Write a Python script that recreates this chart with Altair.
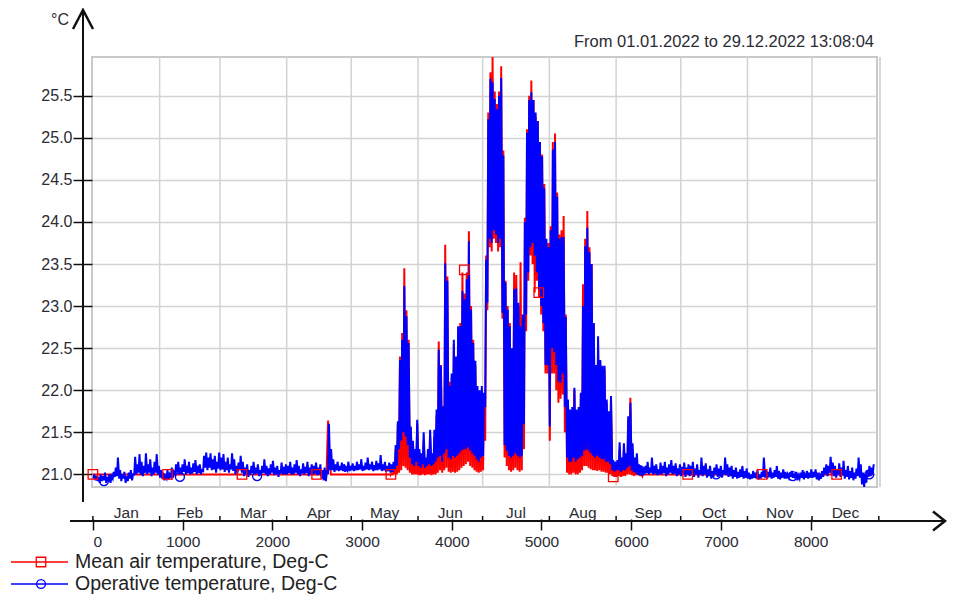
import altair as alt
import pandas as pd

# ---------------- data ----------------
# Operative temperature (blue): daily maximum and minimum, day 0 = 1 Jan
blue_max = [
    21.00, 20.98, 20.97, 21.00, 20.98, 21.02, 20.97, 21.00, 20.98, 21.03,
    21.08, 21.20, 21.05, 21.00, 21.03, 20.98, 21.02, 21.05, 21.00, 21.21,
    21.12, 21.24, 21.15, 21.10, 21.25, 21.12, 21.18, 21.08, 21.15, 21.24,
    21.10, 21.05, 21.02, 20.98, 21.05, 21.00, 21.08, 21.03, 21.12, 21.15,
    21.08, 21.12, 21.18, 21.10, 21.15, 21.08, 21.13, 21.17, 21.10, 21.12,
    21.05, 21.22, 21.26, 21.20, 21.25, 21.18, 21.22, 21.15, 21.26, 21.20,
    21.24, 21.15, 21.20, 21.12, 21.25, 21.18, 21.10, 21.14, 21.22, 21.15,
    21.08, 21.12, 21.05, 21.10, 21.15, 21.08, 21.12, 21.05, 21.10, 21.18,
    21.10, 21.07, 21.12, 21.16, 21.08, 21.10, 21.05, 21.14, 21.09, 21.12,
    21.10, 21.15, 21.08, 21.12, 21.17, 21.10, 21.06, 21.13, 21.09, 21.15,
    21.08, 21.12, 21.10, 21.14, 21.08, 21.12, 21.05, 21.08, 21.03, 21.60,
    21.30, 21.18, 21.12, 21.15, 21.10, 21.14, 21.12, 21.08, 21.15, 21.10,
    21.13, 21.10, 21.15, 21.12, 21.18, 21.10, 21.14, 21.20, 21.12, 21.15,
    21.11, 21.16, 21.13, 21.23, 21.12, 21.15, 21.10, 21.14, 21.12, 21.15,
    21.35, 21.63, 22.36, 22.60, 23.24, 22.88, 22.56, 21.57, 21.40, 21.30,
    21.65, 21.30, 21.25, 21.50, 21.20, 21.30, 21.53, 21.25, 21.53, 21.77,
    22.48, 22.29, 21.81, 23.51, 23.30, 22.05, 22.20, 22.60, 22.40, 22.76,
    22.76, 23.18, 23.08, 23.32, 23.77, 22.96, 22.56, 22.35, 22.05, 22.00,
    22.05, 21.97, 23.55, 25.22, 25.70, 25.66, 25.46, 25.34, 25.50, 25.71,
    24.79, 23.28, 22.96, 22.76, 22.50, 23.20, 23.21, 23.04, 22.76, 22.90,
    24.00, 25.06, 25.45, 25.54, 25.45, 25.30, 25.20, 24.95, 24.78, 24.40,
    23.80, 23.70, 23.90, 24.86, 24.95, 24.30, 23.80, 23.82, 23.82, 22.87,
    21.89, 21.77, 21.80, 22.03, 21.77, 21.80, 21.97, 23.00, 23.71, 23.93,
    23.64, 23.50, 22.80, 22.30, 22.64, 22.36, 22.29, 22.29, 21.89, 21.75,
    21.93, 21.17, 21.15, 21.17, 21.38, 21.20, 21.37, 21.25, 21.69, 21.85,
    21.37, 21.20, 21.25, 21.12, 21.10, 21.08, 21.10, 21.15, 21.08, 21.20,
    21.10, 21.12, 21.06, 21.14, 21.10, 21.15, 21.08, 21.12, 21.17, 21.10,
    21.13, 21.07, 21.12, 21.09, 21.14, 21.08, 21.12, 21.10, 21.15, 21.07,
    21.12, 21.05, 21.20, 21.10, 21.13, 21.06, 21.10, 21.04, 21.08, 21.12,
    21.07, 21.10, 21.05, 21.20, 21.12, 21.08, 21.10, 21.05, 21.08, 21.03,
    21.06, 21.10, 21.04, 21.07, 21.02, 21.00, 21.04, 21.02, 21.05, 21.00,
    21.03, 21.20, 21.06, 21.03, 21.08, 21.02, 21.05, 21.10, 21.04, 21.02,
    21.06, 21.03, 21.00, 21.02, 21.04, 21.01, 21.03, 20.99, 21.02, 21.05,
    21.00, 21.04, 21.02, 21.06, 21.03, 21.06, 21.02, 20.99, 21.04, 21.08,
    21.12, 21.10, 21.21, 21.14, 21.10, 21.06, 21.13, 21.08, 21.16, 21.05,
    21.10, 21.04, 21.08, 21.02, 21.07, 21.20, 21.12, 21.02, 21.00, 21.05,
    21.10, 21.08, 21.12,
]
blue_min = [
    20.95, 20.93, 20.92, 20.90, 20.92, 20.93, 20.90, 20.92, 20.90, 20.95,
    20.97, 20.98, 20.95, 20.92, 20.95, 20.90, 20.92, 20.95, 20.93, 21.00,
    21.00, 21.02, 21.00, 20.98, 21.02, 21.00, 21.02, 20.98, 21.00, 21.02,
    21.00, 20.96, 20.95, 20.93, 20.95, 20.94, 20.97, 20.96, 21.00, 21.02,
    21.00, 21.00, 21.03, 21.00, 21.02, 21.00, 21.01, 21.03, 21.00, 21.02,
    21.00, 21.04, 21.08, 21.05, 21.08, 21.05, 21.06, 21.02, 21.07, 21.05,
    21.06, 21.03, 21.05, 21.02, 21.06, 21.04, 21.00, 21.02, 21.05, 21.02,
    20.98, 21.00, 20.97, 21.00, 21.02, 21.00, 21.01, 20.98, 21.00, 21.02,
    21.00, 20.98, 21.00, 21.02, 20.99, 21.00, 20.97, 21.01, 21.00, 21.00,
    21.00, 21.02, 21.00, 21.00, 21.02, 21.00, 20.98, 21.01, 21.00, 21.02,
    20.98, 21.00, 21.00, 21.01, 20.99, 21.00, 20.95, 20.93, 20.92, 21.02,
    21.05, 21.05, 21.03, 21.05, 21.04, 21.05, 21.04, 21.03, 21.05, 21.04,
    21.05, 21.04, 21.05, 21.05, 21.06, 21.04, 21.05, 21.06, 21.05, 21.06,
    21.04, 21.05, 21.05, 21.06, 21.04, 21.05, 21.03, 21.04, 21.02, 21.03,
    21.05, 21.10, 21.30, 21.40, 21.50, 21.45, 21.35, 21.20, 21.12, 21.10,
    21.15, 21.10, 21.08, 21.12, 21.08, 21.10, 21.12, 21.10, 21.12, 21.15,
    21.20, 21.22, 21.15, 21.25, 21.30, 21.20, 21.18, 21.22, 21.20, 21.22,
    21.25, 21.28, 21.30, 21.30, 21.32, 21.28, 21.25, 21.22, 21.18, 21.15,
    21.20, 21.22, 21.80, 23.04, 23.80, 23.75, 23.90, 23.85, 23.75, 23.80,
    22.92, 21.35, 21.28, 21.22, 21.20, 21.22, 21.25, 21.22, 21.20, 21.22,
    21.60, 22.90, 23.40, 23.70, 23.75, 23.60, 23.40, 23.20, 23.00, 22.80,
    22.30, 22.30, 21.57, 22.50, 22.45, 22.30, 22.10, 22.09, 22.20, 21.80,
    21.20, 21.15, 21.15, 21.20, 21.15, 21.18, 21.20, 21.22, 21.28, 21.30,
    21.28, 21.25, 21.22, 21.20, 21.22, 21.20, 21.18, 21.18, 21.15, 21.15,
    21.12, 21.05, 21.03, 21.05, 21.05, 21.03, 21.05, 21.05, 21.08, 21.10,
    21.05, 21.03, 21.03, 21.00, 21.00, 20.98, 21.00, 21.02, 21.00, 21.02,
    21.00, 21.01, 20.99, 21.00, 21.00, 21.02, 20.98, 21.00, 21.02, 21.00,
    21.01, 20.98, 21.00, 20.98, 21.00, 20.97, 21.00, 20.98, 21.00, 20.97,
    21.00, 20.96, 21.00, 20.98, 21.00, 20.96, 20.98, 20.95, 20.97, 21.00,
    20.97, 20.98, 20.96, 21.00, 20.99, 20.97, 20.98, 20.95, 20.97, 20.95,
    20.96, 20.97, 20.95, 20.96, 20.95, 20.94, 20.95, 20.96, 20.95, 20.94,
    20.95, 20.97, 20.96, 20.95, 20.97, 20.95, 20.96, 20.97, 20.95, 20.94,
    20.96, 20.95, 20.95, 20.96, 20.97, 20.96, 20.95, 20.93, 20.95, 20.96,
    20.94, 20.96, 20.95, 20.96, 20.96, 20.97, 20.94, 20.93, 20.95, 20.97,
    21.00, 20.98, 21.02, 21.00, 20.98, 20.96, 21.00, 20.97, 20.99, 20.95,
    20.97, 20.94, 20.96, 20.93, 20.95, 20.98, 20.96, 20.88, 20.85, 20.90,
    20.97, 20.98, 21.00,
]

# Mean air temperature (red): flat stretches (hour, value) and summer daily max/min
red_winter_hours = [0, 2604, 2616, 2622, 2628, 2640, 2652, 3312]
red_winter_vals = [21.00, 21.00, 21.45, 21.64, 21.10, 21.25, 21.00, 21.00]
RED_SUMMER_FIRST_DAY = 138
red_sum_max = [
    21.01, 21.03,
    21.30, 21.60, 22.40, 22.68, 23.45, 22.95, 22.60, 21.55, 21.30, 21.20,
    21.60, 21.20, 21.15, 21.40, 21.10, 21.20, 21.45, 21.15, 21.45, 21.70,
    22.58, 22.30, 21.75, 23.73, 23.35, 22.10, 22.15, 22.55, 22.35, 22.70,
    22.80, 23.40, 23.15, 23.40, 23.89, 23.00, 22.60, 22.30, 22.00, 21.95,
    22.00, 21.90, 23.60, 25.30, 25.78, 25.96, 25.55, 25.40, 25.55, 25.85,
    24.85, 23.30, 23.00, 22.80, 22.45, 23.40, 23.37, 23.00, 23.52, 22.85,
    24.05, 25.10, 25.50, 25.68, 25.45, 25.25, 25.20, 24.95, 24.80, 24.45,
    23.75, 23.75, 23.95, 24.95, 25.05, 24.35, 23.85, 23.90, 24.07, 22.90,
    21.85, 21.70, 21.75, 22.00, 21.70, 21.75, 21.95, 23.26, 23.80, 24.13,
    23.70, 23.50, 22.80, 22.30, 22.55, 22.35, 22.25, 22.25, 21.85, 21.70,
    21.90, 21.10, 21.08, 21.10, 21.30, 21.12, 21.30, 21.20, 21.65, 21.91,
    21.30, 21.10, 21.15, 21.05, 21.02, 21.01,
]
red_sum_min = [
    20.99, 21.00,
    21.00, 21.00, 21.02, 21.05, 21.10, 21.08, 21.05, 21.02, 21.00, 21.00,
    21.00, 20.99, 20.99, 21.00, 20.99, 21.00, 21.00, 20.99, 21.00, 21.00,
    21.02, 21.05, 21.02, 21.05, 21.08, 21.03, 21.02, 21.03, 21.02, 21.03,
    21.05, 21.08, 21.10, 21.12, 21.15, 21.10, 21.08, 21.05, 21.03, 21.02,
    21.03, 21.05, 21.40, 22.95, 23.70, 23.65, 23.80, 23.75, 23.65, 23.70,
    22.85, 21.20, 21.10, 21.05, 21.03, 21.05, 21.08, 21.05, 21.03, 21.05,
    21.30, 22.70, 23.30, 23.60, 23.50, 23.16, 23.30, 23.10, 22.90, 22.70,
    22.20, 22.20, 21.40, 22.20, 22.20, 22.00, 21.85, 21.90, 21.95, 21.50,
    21.02, 21.00, 21.00, 21.02, 21.00, 21.00, 21.02, 21.05, 21.10, 21.10,
    21.08, 21.06, 21.05, 21.05, 21.04, 21.05, 21.03, 21.03, 21.02, 21.02,
    21.00, 20.98, 20.97, 20.97, 20.98, 20.97, 20.98, 20.98, 21.00, 21.00,
    20.99, 20.98, 20.99, 20.99, 20.98, 20.98,
]
red_fall_hours = [6144, 7300, 7320, 7900, 7920, 8703]
red_fall_vals = [21.00, 21.00, 20.98, 20.98, 21.00, 21.00]

# Marker positions along the curves
square_hours = [0, 832, 1662, 2494, 3322, 4140, 4970, 5800, 6630, 7460, 8290]
square_vals = [21.0, 21.0, 21.0, 21.0, 21.0, 23.43, 23.16, 20.97, 21.0, 21.0, 21.0]
circle_hours = [123, 970, 1830, 6095, 6948, 7801, 8654]
circle_vals = [20.92, 20.97, 20.98, 21.05, 21.0, 20.98, 21.0]

# Calendar
month_names = ["Jan", "Feb", "Mar", "Apr", "May", "Jun", "Jul", "Aug", "Sep", "Oct", "Nov", "Dec"]
month_mid_hours = [372, 1080, 1788, 2520, 3252, 3984, 4716, 5460, 6192, 6924, 7656, 8388]
month_bound_hours = [0, 744, 1416, 2160, 2880, 3624, 4344, 5088, 5832, 6552, 7296, 8016, 8760]
x_tick_values = [0, 1000, 2000, 3000, 4000, 5000, 6000, 7000, 8000]
y_tick_values = [21.0, 21.5, 22.0, 22.5, 23.0, 23.5, 24.0, 24.5, 25.0, 25.5]

title_text = "From 01.01.2022 to 29.12.2022 13:08:04"
unit_text = "°C"
legend_red = "Mean air temperature, Deg-C"
legend_blue = "Operative temperature, Deg-C"

assert len(blue_max) == len(blue_min) == 363
assert len(red_sum_max) == len(red_sum_min) == 118

# ---------------- tables ----------------
def zigzag(first_day, mins, maxs):
    hrs, vals = [], []
    for i, (lo, hi) in enumerate(zip(mins, maxs)):
        d = first_day + i
        hrs += [24 * d + 5, 24 * d + 15]
        vals += [lo, hi]
    return hrs, vals

bh, bv = zigzag(0, blue_min, blue_max)
df_blue = pd.DataFrame({"hour": bh, "temp": bv})
rh, rv = zigzag(RED_SUMMER_FIRST_DAY, red_sum_min, red_sum_max)
df_red = pd.DataFrame({
    "hour": red_winter_hours + rh + red_fall_hours,
    "temp": red_winter_vals + rv + red_fall_vals,
})
df_sq = pd.DataFrame({"hour": square_hours, "temp": square_vals})
df_ci = pd.DataFrame({"hour": circle_hours, "temp": circle_vals})
df_grid = pd.DataFrame({"hour": month_bound_hours[1:-1]})
df_mticks = pd.DataFrame({"hour": month_bound_hours})
df_months = pd.DataFrame({"hour": month_mid_hours, "name": month_names})
one = pd.DataFrame({"k": [1]})

# ---------------- styling ----------------
W, H = 785, 430
FONT = "Liberation Sans"
TXT = "#2b2b33"
GRID = "#d3d3d3"

xs = alt.Scale(domain=[-10, 8740], nice=False, zero=False)
ys = alt.Scale(domain=[20.85, 25.96], nice=False, zero=False)
x_axis = alt.Axis(values=x_tick_values, format="d", title=None, grid=False, domain=False,
                  ticks=True, tickSize=11, tickColor="#111111", tickWidth=1.5, offset=32,
                  labelFontSize=15.5, labelFont=FONT, labelColor=TXT, labelPadding=4)
y_axis = alt.Axis(values=y_tick_values, format=".1f", title=None, grid=True, gridColor=GRID,
                  gridWidth=1.5, domain=False, ticks=True, tickSize=19, tickColor="#111111",
                  tickWidth=1.5, labelFontSize=16, labelFont=FONT, labelColor=TXT, labelPadding=1)
X = alt.X("hour:Q", scale=xs, axis=x_axis)
Y = alt.Y("temp:Q", scale=ys, axis=y_axis)

vgrid = alt.Chart(df_grid).mark_rule(color=GRID, strokeWidth=1.5).encode(x=X)
red_line = alt.Chart(df_red).mark_line(color="#ff0000", strokeWidth=2).encode(x=X, y=Y)
blue_line = alt.Chart(df_blue).mark_line(color="#0000ff", strokeWidth=2).encode(x=X, y=Y)
squares = alt.Chart(df_sq).mark_point(shape="square", filled=False, color="#ff0000", size=90,
                                      strokeWidth=1.3, opacity=1).encode(x=X, y=Y)
circles = alt.Chart(df_ci).mark_point(shape="circle", filled=False, color="#0000ff", size=80,
                                      strokeWidth=1.3, opacity=1).encode(x=X, y=Y)

frame2 = alt.Chart(one).mark_rule(color="#d8d8d8", strokeWidth=2).encode(
    x=alt.value(W + 3), y=alt.value(0), y2=alt.value(H))

mticks = alt.Chart(df_mticks).mark_rule(color="#111111", strokeWidth=1.5).encode(
    x=X, y=alt.value(459), y2=alt.value(464))
mlabels = alt.Chart(df_months).mark_text(font=FONT, fontSize=15.5, color=TXT, align="center",
                                         baseline="alphabetic").encode(
    x=X, y=alt.value(461), text="name:N")

yline = alt.Chart(one).mark_rule(color="#111111", strokeWidth=2).encode(
    x=alt.value(-9), y=alt.value(-47), y2=alt.value(445))
xline = alt.Chart(one).mark_rule(color="#111111", strokeWidth=2).encode(
    x=alt.value(-22), x2=alt.value(853), y=alt.value(464))
yarrow = alt.Chart(one).mark_point(shape="M-0.5,0.95L0,0L0.5,0.95", size=1600, filled=False,
                                   color="#111111", strokeWidth=2.5, opacity=1).encode(
    x=alt.value(-9), y=alt.value(-47))
xarrow = alt.Chart(one).mark_point(shape="M-0.6,-0.47L0,0L-0.6,0.47", size=1600, filled=False,
                                   color="#111111", strokeWidth=2.5, opacity=1).encode(
    x=alt.value(853), y=alt.value(464))

unit = alt.Chart(one).mark_text(text=unit_text, font=FONT, fontSize=16, color=TXT,
                                align="right", baseline="alphabetic").encode(
    x=alt.value(-23), y=alt.value(-32))
title = alt.Chart(one).mark_text(text=title_text, font=FONT, fontSize=16.5, color=TXT,
                                 align="right", baseline="alphabetic").encode(
    x=alt.value(782), y=alt.value(-10))

LEG_R_Y, LEG_B_Y = 505, 527
LEG_FS = 19.5
leg_red_line = alt.Chart(one).mark_rule(color="#ff0000", strokeWidth=1.5).encode(
    x=alt.value(-81), x2=alt.value(-24), y=alt.value(LEG_R_Y))
leg_red_mark = alt.Chart(one).mark_point(shape="square", filled=False, color="#ff0000", size=90,
                                         strokeWidth=1.3, opacity=1).encode(
    x=alt.value(-51), y=alt.value(LEG_R_Y))
leg_red_text = alt.Chart(one).mark_text(text=legend_red, font=FONT, fontSize=LEG_FS,
                                        color="#222222", align="left", baseline="middle").encode(
    x=alt.value(-17), y=alt.value(LEG_R_Y))
leg_blue_line = alt.Chart(one).mark_rule(color="#0000ff", strokeWidth=1.5).encode(
    x=alt.value(-81), x2=alt.value(-24), y=alt.value(LEG_B_Y))
leg_blue_mark = alt.Chart(one).mark_point(shape="circle", filled=False, color="#0000ff", size=80,
                                          strokeWidth=1.3, opacity=1).encode(
    x=alt.value(-51), y=alt.value(LEG_B_Y))
leg_blue_text = alt.Chart(one).mark_text(text=legend_blue, font=FONT, fontSize=LEG_FS,
                                         color="#222222", align="left", baseline="middle").encode(
    x=alt.value(-17), y=alt.value(LEG_B_Y))

chart = alt.layer(
    vgrid, red_line, blue_line, squares, circles, frame2, mticks, mlabels,
    yline, xline, yarrow, xarrow, unit, title,
    leg_red_line, leg_red_mark, leg_red_text, leg_blue_line, leg_blue_mark, leg_blue_text,
).properties(
    width=W, height=H,
    padding={"left": 84, "top": 49, "right": 70, "bottom": 110},
    autosize=alt.AutoSizeParams(type="none"),
    background="white",
).configure_view(stroke="#c9c9c9", strokeWidth=2)

chart.save("out.html", embed_options={"renderer": "svg", "actions": False})
